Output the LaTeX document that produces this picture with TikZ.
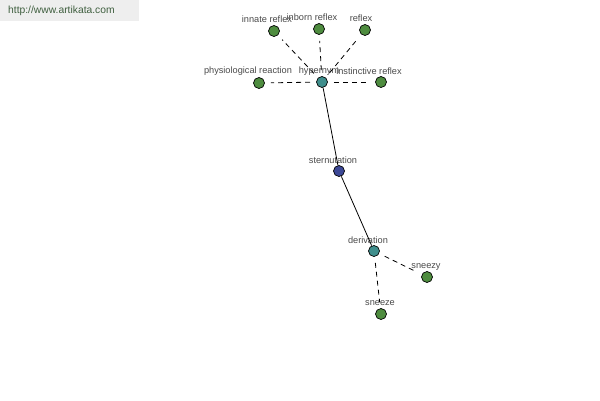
\documentclass[tikz,border=0pt]{standalone}
\usepackage{fontspec}
\setmainfont{Liberation Sans}
\usepackage{tikz}
\usetikzlibrary{positioning}
\definecolor{Leaf}{HTML}{4E8C3F}
\definecolor{Sea}{HTML}{3F8E8C}
\definecolor{Ink}{HTML}{3C4896}
\definecolor{Label}{HTML}{4A4A4A}
\definecolor{Stamp}{HTML}{EEEEEE}
\definecolor{StampText}{HTML}{3F5F3F}
\tikzset{
  word/.style={circle, draw=black, line width=0.7pt, fill=Leaf, minimum size=11pt, inner sep=0pt},
  hubword/.style={word, fill=Sea},
  rootword/.style={word, fill=Ink},
  wordlabel/.style={text=Label, font=\fontsize{9.2}{11}\selectfont, inner sep=0pt},
  solidlink/.style={draw=black, line width=0.8pt},
  dashlink/.style={draw=black, line width=0.8pt, dash pattern=on 5pt off 4pt, shorten <=6pt, shorten >=6pt}
}
\begin{document}
\begin{tikzpicture}[x=1pt, y=-1pt]
  \useasboundingbox (0,0) rectangle (600,400);
  \fill[Stamp] (0,0) rectangle (139,21);
  \node[anchor=west, text=StampText, font=\fontsize{10.3}{12}\selectfont, inner sep=0pt] (stamp) at (8,11) {http://www.artikata.com};

  % words
  \node[rootword] (sternutation) at (339,171) {};
  \node[hubword] (hypernym) at (322,82) {};
  \node[hubword] (derivation) at (374,251) {};
  \node[word] (innate) at (274,31) {};
  \node[word] (inborn) at (319,29) {};
  \node[word] (reflex) at (365,30) {};
  \node[word] (physio) at (259,83) {};
  \node[word] (instinctive) at (381,82) {};
  \node[word] (sneezy) at (427,277) {};
  \node[word] (sneeze) at (381,314) {};

  % labels
  \node[wordlabel] (sternutation-lbl) at (333,160) {sternutation};
  \node[wordlabel] (hypernym-lbl) at (319,71) {hypernym};
  \node[wordlabel] (derivation-lbl) at (368,240) {derivation};
  \node[wordlabel] (innate-lbl) at (267,19) {innate reflex};
  \node[wordlabel] (inborn-lbl) at (312,17) {inborn reflex};
  \node[wordlabel] (reflex-lbl) at (361,18) {reflex};
  \node[wordlabel] (physio-lbl) at (248,71) {physiological reaction};
  \node[wordlabel] (instinctive-lbl) at (369,71) {instinctive reflex};
  \node[wordlabel] (sneezy-lbl) at (426,267) {sneezy};
  \node[wordlabel] (sneeze-lbl) at (380,303) {sneeze};

  \draw[solidlink] (hypernym) -- (sternutation);
  \draw[solidlink] (sternutation) -- (derivation);
  \draw[dashlink] (hypernym) -- (innate);
  \draw[dashlink] (hypernym) -- (inborn);
  \draw[dashlink] (hypernym) -- (reflex);
  \draw[dashlink] (hypernym) -- (physio);
  \draw[dashlink] (hypernym) -- (instinctive);
  \draw[dashlink] (derivation) -- (sneezy);
  \draw[dashlink] (derivation) -- (sneeze);
\end{tikzpicture}
\end{document}
